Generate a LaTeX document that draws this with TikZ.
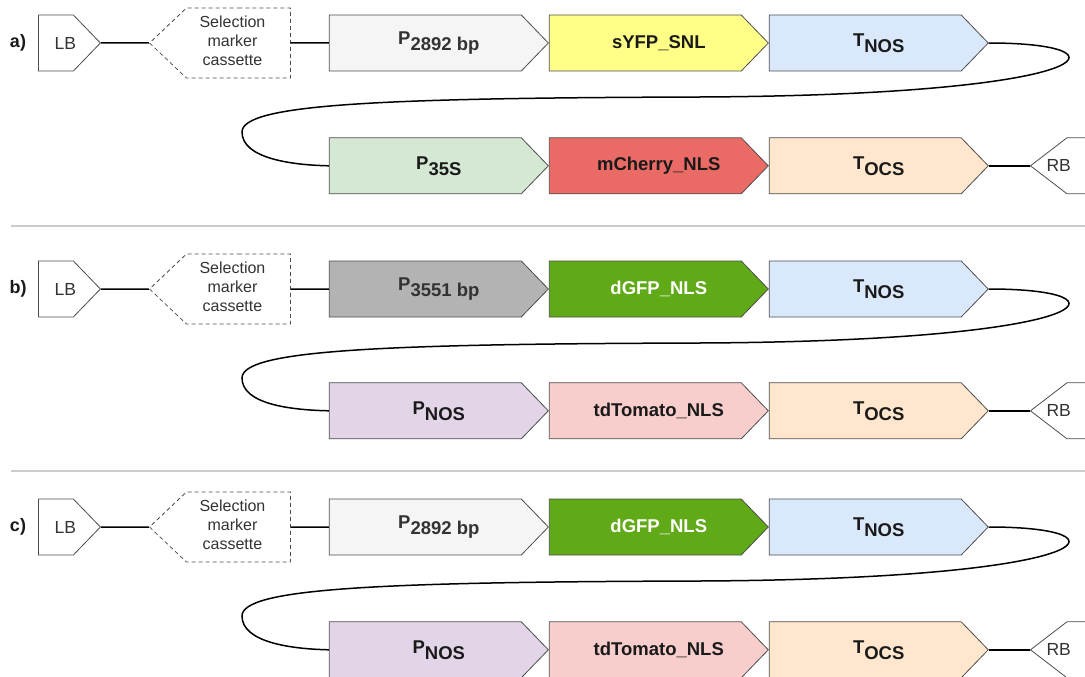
\documentclass[tikz,border=0pt]{standalone}
\usepackage{fontspec}
\setmainfont{Liberation Sans}
\definecolor{edgegray}{HTML}{4D4D4D}
\definecolor{softtext}{HTML}{333333}
\definecolor{labeltext}{HTML}{1A1A1A}
\definecolor{rulegray}{HTML}{CCCCCC}
\definecolor{lightgray}{HTML}{F5F5F5}
\definecolor{midgray}{HTML}{B3B3B3}
\definecolor{syfp}{HTML}{FFFF88}
\definecolor{dgfp}{HTML}{60A917}
\definecolor{nosblue}{HTML}{DAE8FC}
\definecolor{ocsorange}{HTML}{FFE6CC}
\definecolor{p35green}{HTML}{D5E8D4}
\definecolor{mcherry}{HTML}{EA6B66}
\definecolor{pnoslilac}{HTML}{E1D5E7}
\definecolor{tdtomato}{HTML}{F8CECC}
\usetikzlibrary{shapes.symbols,positioning}
% label centred on the whole arrow, not only on its body
\newcommand{\partlbl}[1]{\makebox[0pt]{\hspace*{27pt}#1}}
\newcommand{\sublbl}[2]{\partlbl{#1\raisebox{-6pt}{#2}}}
\newcommand{\selmark}{\makebox[0pt]{\begin{tabular}{@{}c@{}}Selection\\marker\\cassette\end{tabular}\hspace*{12pt}}}

\begin{document}
\begin{tikzpicture}[x=1pt, y=-1pt,
  part/.style={signal, signal to=east, signal pointer angle=92, draw=edgegray, line width=0.8pt, minimum width=219pt, minimum height=56pt, inner sep=0pt, font=\fontsize{18.5}{20}\selectfont\bfseries, text=labeltext},
  border/.style={signal, signal pointer angle=92, draw=edgegray, line width=0.8pt, fill=white, minimum width=62pt, minimum height=56pt, inner sep=0pt, font=\fontsize{17.5}{19}\selectfont, text=softtext},
  marker/.style={signal, signal to=west, signal pointer angle=87, draw=edgegray, line width=0.8pt, dash pattern=on 4pt off 3pt, minimum width=141pt, minimum height=70pt, inner sep=0pt, font=\fontsize{16}{19}\selectfont, text=softtext},
  rowlab/.style={font=\fontsize{18}{20}\selectfont\bfseries, text=labeltext},
  link/.style={line width=1.5pt, black},
  node distance=0pt]
\useasboundingbox (0,0) rectangle (1085,677);

% separators
\draw[rulegray, line width=1.2pt] (11,226) -- (1085,226);
\draw[rulegray, line width=1.2pt] (11,471) -- (1085,471);

% a) construct
\begin{scope}
\node[rowlab] (a-lab) at (18,43) {a)};
\node[border, signal to=east, anchor=west] (a-lb) at (38,43) {\makebox[0pt]{\hspace*{19pt}LB}};
\node[marker, right=48pt of a-lb] (a-sel) {\selmark};
\node[part, fill=lightgray, text=softtext, right=38pt of a-sel] (a-p1) {\sublbl{P}{2892 bp}};
\node[part, fill=syfp, right=of a-p1] (a-fp1) {\partlbl{sYFP\_SNL}};
\node[part, fill=nosblue, right=of a-fp1] (a-t1) {\sublbl{T}{NOS}};
\node[part, fill=p35green, below=66pt of a-p1] (a-p2) {\sublbl{P}{35S}};
\node[part, fill=mcherry, right=of a-p2] (a-fp2) {\partlbl{mCherry\_NLS}};
\node[part, fill=ocsorange, right=of a-fp2] (a-t2) {\sublbl{T}{OCS}};
\node[border, signal to=west, signal pointer angle=75, minimum width=70pt, right=41pt of a-t2] (a-rb) {\makebox[0pt]{RB\hspace*{50pt}}};
\coordinate (a-bend) at (700,97);
\coordinate (a-turn) at (242,132);
\draw[link] (a-lb) -- (a-sel);
\draw[link] (a-sel) -- (a-p1);
\draw[link] (a-t1.east) .. controls (1135,43) and (1105,95) .. (a-bend)
  .. controls (380,98) and (242,104) .. (a-turn)
  .. controls (242,158) and (290,165) .. (a-p2.west);
\draw[link] (a-t2.east) -- (a-rb.west);
\end{scope}

% b) construct
\begin{scope}[yshift=-246pt]
\node[rowlab] (b-lab) at (18,43) {b)};
\node[border, signal to=east, anchor=west] (b-lb) at (38,43) {\makebox[0pt]{\hspace*{19pt}LB}};
\node[marker, right=48pt of b-lb] (b-sel) {\selmark};
\node[part, fill=midgray, text=softtext, right=38pt of b-sel] (b-p1) {\sublbl{P}{3551 bp}};
\node[part, fill=dgfp, text=white, right=of b-p1] (b-fp1) {\partlbl{dGFP\_NLS}};
\node[part, fill=nosblue, right=of b-fp1] (b-t1) {\sublbl{T}{NOS}};
\node[part, fill=pnoslilac, below=65pt of b-p1] (b-p2) {\sublbl{P}{NOS}};
\node[part, fill=tdtomato, right=of b-p2] (b-fp2) {\partlbl{tdTomato\_NLS}};
\node[part, fill=ocsorange, right=of b-fp2] (b-t2) {\sublbl{T}{OCS}};
\node[border, signal to=west, signal pointer angle=75, minimum width=70pt, right=41pt of b-t2] (b-rb) {\makebox[0pt]{RB\hspace*{50pt}}};
\coordinate (b-bend) at (700,97);
\coordinate (b-turn) at (242,132);
\draw[link] (b-lb) -- (b-sel);
\draw[link] (b-sel) -- (b-p1);
\draw[link] (b-t1.east) .. controls (1135,43) and (1105,95) .. (b-bend)
  .. controls (380,98) and (242,104) .. (b-turn)
  .. controls (242,158) and (290,164) .. (b-p2.west);
\draw[link] (b-t2.east) -- (b-rb.west);
\end{scope}

% c) construct
\begin{scope}[yshift=-484pt]
\node[rowlab] (c-lab) at (18,43) {c)};
\node[border, signal to=east, anchor=west] (c-lb) at (38,43) {\makebox[0pt]{\hspace*{19pt}LB}};
\node[marker, right=48pt of c-lb] (c-sel) {\selmark};
\node[part, fill=lightgray, text=softtext, right=38pt of c-sel] (c-p1) {\sublbl{P}{2892 bp}};
\node[part, fill=dgfp, text=white, right=of c-p1] (c-fp1) {\partlbl{dGFP\_NLS}};
\node[part, fill=nosblue, right=of c-fp1] (c-t1) {\sublbl{T}{NOS}};
\node[part, fill=pnoslilac, below=66pt of c-p1] (c-p2) {\sublbl{P}{NOS}};
\node[part, fill=tdtomato, right=of c-p2] (c-fp2) {\partlbl{tdTomato\_NLS}};
\node[part, fill=ocsorange, right=of c-fp2] (c-t2) {\sublbl{T}{OCS}};
\node[border, signal to=west, signal pointer angle=75, minimum width=70pt, right=41pt of c-t2] (c-rb) {\makebox[0pt]{RB\hspace*{50pt}}};
\coordinate (c-bend) at (700,97);
\coordinate (c-turn) at (242,132);
\draw[link] (c-lb) -- (c-sel);
\draw[link] (c-sel) -- (c-p1);
\draw[link] (c-t1.east) .. controls (1135,43) and (1105,95) .. (c-bend)
  .. controls (380,98) and (242,104) .. (c-turn)
  .. controls (242,158) and (290,165) .. (c-p2.west);
\draw[link] (c-t2.east) -- (c-rb.west);
\end{scope}
\end{tikzpicture}
\end{document}
